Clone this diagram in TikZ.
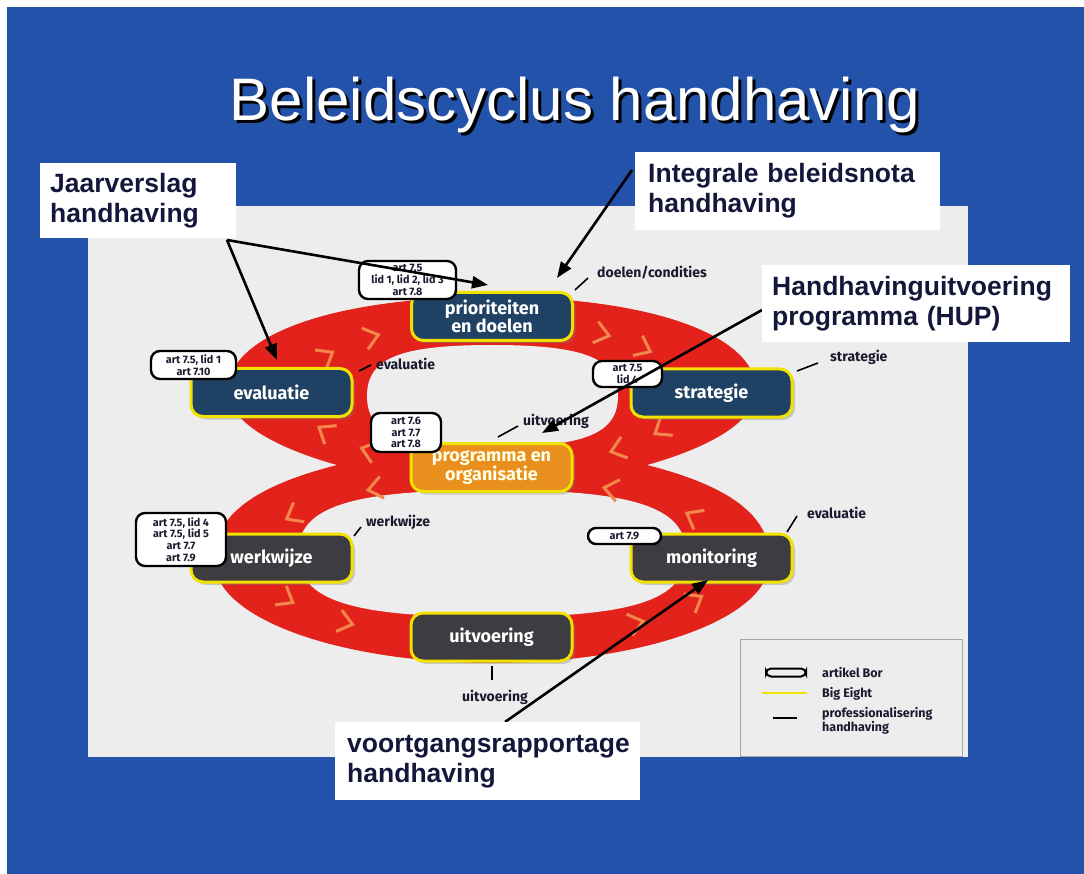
\documentclass[tikz,border=0pt]{standalone}
\usepackage{fontspec}
\setmainfont{Liberation Sans}
\newfontfamily\hfont{Fira Sans}
\usetikzlibrary{arrows.meta,calc,shadows}

\definecolor{bgblue}{HTML}{2252AA}
\definecolor{panelgrey}{HTML}{EDEDED}
\definecolor{bandred}{HTML}{E3221B}
\definecolor{chevcol}{HTML}{F2874C}
\definecolor{navybox}{HTML}{1F4163}
\definecolor{orangebox}{HTML}{E98F1E}
\definecolor{greybox}{HTML}{3D3C40}
\definecolor{bigyellow}{HTML}{F2E200}
\definecolor{calltext}{HTML}{15173A}
\definecolor{labtext}{HTML}{1A1A2E}

\begin{document}
\begin{tikzpicture}[x=1pt,y=-1pt,
  stepbox/.style={draw=bigyellow, line width=3pt, rounded corners=12pt,
    minimum width=161pt, minimum height=48pt, text=white,
    font=\hfont\bfseries\fontsize{18}{18}\selectfont, align=center, inner sep=0pt,
    drop shadow={shadow xshift=3pt, shadow yshift=-3pt, opacity=0.35}},
  artbubble/.style={draw=black, line width=2.4pt, fill=white, rounded corners=9pt,
    font=\hfont\bfseries\fontsize{10.8}{11.6}\selectfont, align=center, inner sep=0pt, text=labtext},
  callout/.style={fill=white, anchor=north west,
    font=\bfseries\fontsize{26.5}{30}\selectfont, text=calltext, align=left, inner ysep=0pt},
  bigarrow/.style={draw=black, line width=2.6pt, -{Triangle[length=16pt,width=12pt]}},
  smalllab/.style={font=\hfont\bfseries\fontsize{14}{15}\selectfont, text=labtext, inner sep=0pt, anchor=west},
  leglab/.style={font=\hfont\bfseries\fontsize{12.5}{12}\selectfont, text=labtext, inner sep=0pt, anchor=west, align=left},
  profline/.style={draw=black, line width=1.6pt},
  chevron/.style={draw=chevcol, line width=3pt, line join=miter}
]
\useasboundingbox (0,0) rectangle (1084,874);
\fill[white] (0,0) rectangle (1084,874);
\fill[bgblue] (7,7) rectangle (1084,874);

% title
\node[anchor=base, text=black, font=\fontsize{60}{60}\selectfont, inner sep=0pt] (titleshadow) at (578,124) {Beleidscyclus handhaving};
\node[anchor=base, text=white, font=\fontsize{60}{60}\selectfont, inner sep=0pt] (title) at (575,121) {Beleidscyclus handhaving};

% panel
\fill[panelgrey] (88,206) rectangle (968,757);

% figure eight band: outer outline
\fill[bandred] (492,297)
  .. controls (650,297) and (756,335) .. (756,390)
  .. controls (756,425) and (700,450) .. (647,465)
  .. controls (729,486) and (770,515) .. (770,560)
  .. controls (770,620) and (640,663) .. (492,663)
  .. controls (344,663) and (214,620) .. (214,560)
  .. controls (214,515) and (255,486) .. (337,465)
  .. controls (284,450) and (228,425) .. (228,390)
  .. controls (228,335) and (334,297) .. (492,297) -- cycle;
% inner holes (rounded ovals)
\fill[panelgrey] (492,345)
  .. controls (584,345) and (618,358) .. (618,396)
  .. controls (618,434) and (584,447) .. (492,447)
  .. controls (400,447) and (367,434) .. (367,396)
  .. controls (367,358) and (400,345) .. (492,345) -- cycle;
\fill[panelgrey] (492,490)
  .. controls (634,490) and (686,507) .. (686,553)
  .. controls (686,600) and (634,617) .. (492,617)
  .. controls (350,617) and (298,600) .. (298,553)
  .. controls (298,507) and (350,490) .. (492,490) -- cycle;

% chevrons, top loop (clockwise on screen)
\foreach \s in {30,50,130,150,212,232,305,322} {
  \pgfmathsetmacro\ang{atan2(-73*cos(\s), -194*sin(\s))}
  \draw[chevron, shift={({492+194*cos(\s)},{394+73*sin(\s)})}, rotate=\ang]
    (-8,-11) -- (6,0) -- (-8,11);
}
% chevrons, bottom loop (counter-clockwise on screen)
\foreach \s in {30,52,128,150,212,240,300,328} {
  \pgfmathsetmacro\ang{atan2(81*cos(\s), 236*sin(\s))}
  \draw[chevron, shift={({492+236*cos(\s)},{559+81*sin(\s)})}, rotate=\ang]
    (-8,-11) -- (6,0) -- (-8,11);
}

% step boxes
\node[stepbox, fill=navybox] (prio) at (492,316.5) {prioriteiten\\en doelen};
\node[stepbox, fill=navybox] (eval) at (271.5,392.5) {evaluatie};
\node[stepbox, fill=navybox] (strat) at (711.5,393) {strategie};
\node[stepbox, fill=orangebox, text=white!90!yellow] (prog) at (491.5,467.5) {programma en\\organisatie};
\node[stepbox, fill=greybox] (werk) at (271.5,558) {werkwijze};
\node[stepbox, fill=greybox] (moni) at (711.5,558) {monitoring};
\node[stepbox, fill=greybox] (uitv) at (491.5,637) {uitvoering};

% article bubbles
\node[artbubble, minimum width=97pt, minimum height=38pt] (b1) at (407.5,280) {art 7.5\\lid 1, lid 2, lid 3\\art 7.8};
\node[artbubble, minimum width=85pt, minimum height=28pt] (b2) at (193.5,365) {art 7.5, lid 1\\art 7.10};
\node[artbubble, minimum width=69pt, minimum height=26pt] (b3) at (627.5,374) {art 7.5\\lid 4};
\node[artbubble, minimum width=70pt, minimum height=39pt] (b4) at (406,432.5) {art 7.6\\art 7.7\\art 7.8};
\node[artbubble, minimum width=90pt, minimum height=53pt] (b5) at (181,539.5) {art 7.5, lid 4\\art 7.5, lid 5\\art 7.7\\art 7.9};
\node[artbubble, minimum width=73pt, minimum height=16pt, rounded corners=8pt] (b6) at (624.5,536) {art 7.9};

% professionalisering labels
\node[smalllab] (l1) at (597,273) {doelen/condities};
\draw[profline] ([shift={(-22,17)}]l1.west) -- ([shift={(-9,5)}]l1.west);
\node[smalllab] (l2) at (376,364) {evaluatie};
\draw[profline] ([shift={(-17,7)}]l2.west) -- ([shift={(-5,1)}]l2.west);
\node[smalllab] (l3) at (830,357) {strategie};
\draw[profline] ([shift={(-33,14)}]l3.west) -- ([shift={(-12,6)}]l3.west);
\node[smalllab] (l4) at (523,421) {uitvoering};
\draw[profline] ([shift={(-25,16)}]l4.west) -- ([shift={(-5,5)}]l4.west);
\node[smalllab] (l5) at (366,522) {werkwijze};
\draw[profline] ([shift={(-12,14)}]l5.west) -- ([shift={(-5,5)}]l5.west);
\node[smalllab] (l6) at (807,513) {evaluatie};
\draw[profline] ([shift={(-20,19)}]l6.west) -- ([shift={(-10,3)}]l6.west);
\node[smalllab] (l7) at (462,697) {uitvoering};
\draw[profline] ([shift={(30,-31)}]l7.west) -- ([shift={(30,-17)}]l7.west);

% legend
\draw[gray!70, line width=1pt] (740,639) rectangle (962,756);
\node[draw=black, line width=2pt, rounded corners=5pt, minimum width=40pt, minimum height=8pt, inner sep=0pt] (legpill) at (786,672.5) {};
\node[leglab] (legt1) at (822,673) {artikel Bor};
\draw[bigyellow, line width=2pt] (762,693) -- (807,693);
\node[leglab] (legt2) at (822,693.5) {Big Eight};
\draw[black, line width=1.6pt] (773,718) -- (797,718);
\node[leglab] (legt3) at (822,721) {professionalisering\\handhaving};

% arrow end points
\coordinate (jfrom) at (227,240);
\coordinate (jto1) at (488,285);
\coordinate (jto2) at (277,360);
\coordinate (ifrom) at (632,170);
\coordinate (ito) at (557,278);
\coordinate (hfrom) at (762,310);
\coordinate (hto) at (542,433);
\coordinate (vfrom) at (505,722);
\coordinate (vto) at (708,580);

\draw[bigarrow] (jfrom) -- (jto1);
\draw[bigarrow] (jfrom) -- (jto2);
\draw[bigarrow] (ifrom) -- (ito);
\draw[bigarrow] (hfrom) -- (hto);
\draw[bigarrow] (vfrom) -- (vto);

% callouts
\node[callout, text width=176pt, inner xsep=10pt, minimum height=75pt] (jaar) at (40,163) {Jaarverslag\\handhaving};
\node[callout, text width=279pt, inner xsep=13pt, minimum height=78pt] (integ) at (635,152) {Integrale beleidsnota\\handhaving};
\node[callout, text width=288pt, inner xsep=10pt, minimum height=77pt] (hup) at (762,265) {Handhavinguitvoering\\programma (HUP)};
\node[callout, text width=281pt, inner xsep=12pt, minimum height=78pt] (voort) at (335,722) {voortgangsrapportage\\handhaving};
\end{tikzpicture}
\end{document}
